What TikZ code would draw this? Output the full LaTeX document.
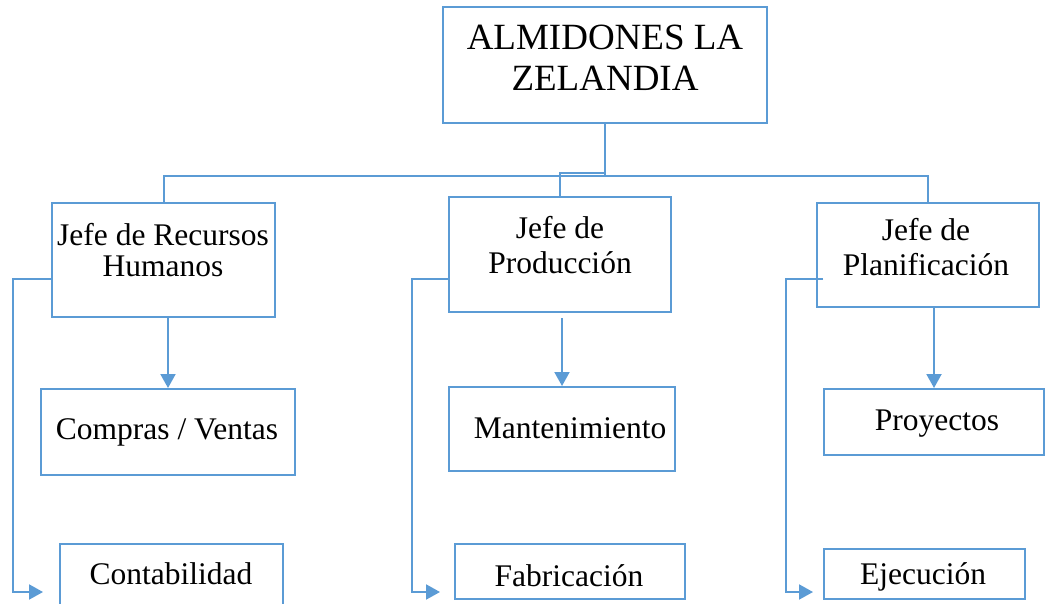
\documentclass[tikz,border=0pt]{standalone}
\usepackage{fontspec}
\setmainfont{Liberation Serif}
\usetikzlibrary{arrows.meta}
\definecolor{lineblue}{HTML}{5B9BD5}
\begin{document}
\begin{tikzpicture}[x=1pt,y=-1pt,
  box/.style={draw=lineblue, line width=2pt, inner sep=0pt, rectangle},
  txt/.style={font=\fontsize{31.5}{35}\selectfont, align=center, inner sep=0pt, text=black},
  bigtxt/.style={font=\fontsize{37}{41}\selectfont, align=center, inner sep=0pt, text=black},
  conn/.style={draw=lineblue, line width=2pt},
  arr/.style={conn, -{Triangle[length=14pt,width=15pt]}}]
\clip (0,0) rectangle (1047,604);
\useasboundingbox (0,0) rectangle (1047,604);
\fill[white] (0,0) rectangle (1047,604);

% boxes
\node[box, minimum width=324pt, minimum height=116pt] (top) at (605,65) {};
\node[box, minimum width=223pt, minimum height=114pt] (rh) at (163.5,260) {};
\node[box, minimum width=222pt, minimum height=115pt] (prod) at (560,254.5) {};
\node[box, minimum width=222pt, minimum height=104pt] (plan) at (928,255) {};
\node[box, minimum width=254pt, minimum height=86pt] (cv) at (168,432) {};
\node[box, minimum width=226pt, minimum height=84pt] (mant) at (562,429) {};
\node[box, minimum width=220pt, minimum height=66pt] (proy) at (934,422) {};
\node[box, minimum width=223pt, minimum height=96pt] (cont) at (171.5,592) {};
\node[box, minimum width=230pt, minimum height=55pt] (fab) at (570,571.5) {};
\node[box, minimum width=201pt, minimum height=50pt] (eje) at (924.5,574) {};

% texts
\node[bigtxt] (ttop) at (605,57.5) {ALMIDONES LA\\ZELANDIA};
\node[txt, font=\fontsize{31.5}{31}\selectfont] (trh) at (163,250) {Jefe de Recursos\\Humanos};
\node[txt] (tprod) at (560,245.5) {Jefe de\\Producción};
\node[txt] (tplan) at (926,247.5) {Jefe de\\Planificación};
\node[txt] (tcv) at (167,432.5) {Compras / Ventas};
\node[txt] (tmant) at (570,428) {Mantenimiento};
\node[txt] (tproy) at (937,424) {Proyectos};
\node[txt] (tcont) at (171,574) {Contabilidad};
\node[txt] (tfab) at (569,575.5) {Fabricación};
\node[txt] (teje) at (923,576.5) {Ejecución};

% hierarchy connectors
\draw[conn] (top.south) -- ++(0,52) coordinate (bus);
\draw[conn] (rh.north) |- (bus) -| (plan.north);
\draw[conn] (top.south) -- ++(0,49) -| (prod.north);

% vertical arrows
\draw[arr] (cv.north |- rh.south) -- (cv.north);
\path ([yshift=-5pt]prod.south) coordinate (ps);
\draw[arr] (ps -| mant.north) -- (mant.north);
\draw[arr] (proy.north |- plan.south) -- (proy.north);

% elbow arrows
\coordinate (e1) at (43,592);
\coordinate (e2) at (440,592);
\coordinate (e3) at (813,592);
\draw[arr] ([yshift=-19pt]rh.west) -- ++(-38,0) |- (e1);
\draw[arr] ([yshift=-24.5pt]prod.west) -- ++(-36,0) |- (e2);
\draw[arr] ([xshift=7pt,yshift=-24pt]plan.west) -- ++(-37,0) |- (e3);
\end{tikzpicture}
\end{document}
